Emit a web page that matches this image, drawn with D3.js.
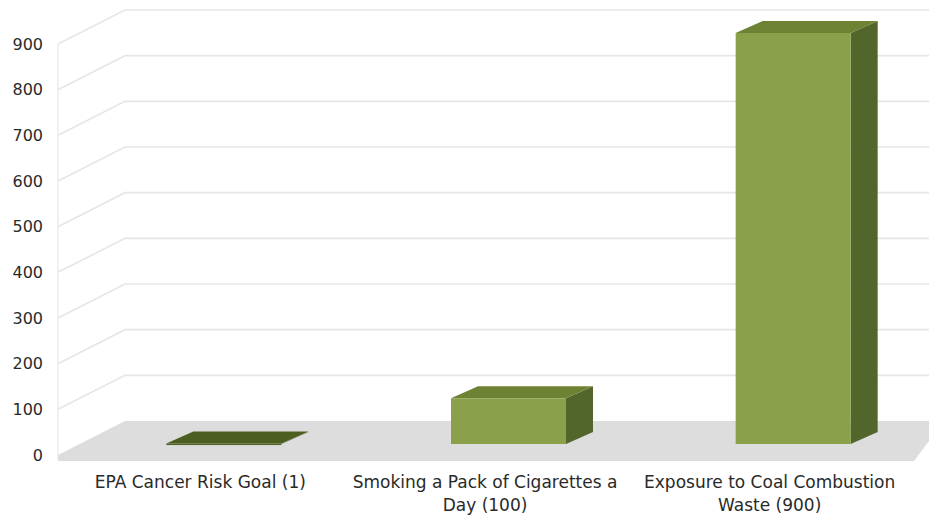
<!DOCTYPE html>
<html>
<head>
<meta charset="utf-8">
<script src="https://cdn.jsdelivr.net/npm/d3@7"></script>
<style>
  body { margin: 0; background: #fff; }
  text { font-family: "DejaVu Sans", Verdana, sans-serif; fill: #2a2a2a; }
</style>
</head>
<body>
<div id="chart"></div>
<script>
const categories = [
  "EPA Cancer Risk Goal (1)",
  "Smoking a Pack of Cigarettes a Day (100)",
  "Exposure to Coal Combustion Waste (900)"
];
const values = [1, 100, 900];
const yTicks = [0, 100, 200, 300, 400, 500, 600, 700, 800, 900];

const width = 929, height = 516;

// perspective offsets
const wallDx = 67, wallDy = -34;   // floor front -> back wall
const barDx = 27, barDy = -12;     // bar depth
const barInset = 11;               // bar front sits this far back from floor front

const left = 58, right = 912;

const svg = d3.select("#chart").append("svg")
  .attr("width", width)
  .attr("height", height);

const y = d3.scaleLinear().domain([0, 900]).range([455, 44]);
const x = d3.scaleBand().domain(categories).range([left, right]);

// floor
const y0 = y(0);
svg.append("polygon")
  .attr("points", [
    [left, y0], [left + wallDx, y0 + wallDy], [width, y0 + wallDy],
    [width, y0 - 14], [914, y0 + 6], [left, y0 + 6]
  ].map(p => p.join(",")).join(" "))
  .attr("fill", "#dddddd");

// gridlines (slanted side + back wall)
svg.append("g").selectAll("polyline")
  .data(yTicks.filter(d => d > 0))
  .enter().append("polyline")
  .attr("points", d => [
    [left, y(d)], [left + wallDx, y(d) + wallDy], [width, y(d) + wallDy]
  ].map(p => p.join(",")).join(" "))
  .attr("fill", "none")
  .attr("stroke", "#e6e6e6")
  .attr("stroke-width", 1.6);

// axis line
svg.append("line")
  .attr("x1", left).attr("x2", left)
  .attr("y1", y(900)).attr("y2", y(0) + 6)
  .attr("stroke", "#e8e8e8")
  .attr("stroke-width", 1.2);

// tick labels
svg.append("g").selectAll("text")
  .data(yTicks)
  .enter().append("text")
  .attr("x", 43)
  .attr("y", d => y(d))
  .attr("dy", "0.36em")
  .attr("text-anchor", "end")
  .attr("font-size", 16)
  .text(d => d);

// bars
const barW = 115;
const yb = v => y(v) - barInset;
const bars = svg.append("g").selectAll("g")
  .data(categories.map((c, i) => ({ c, v: values[i] })))
  .enter().append("g");

const pts = a => a.map(p => p.join(",")).join(" ");

bars.each(function(d) {
  const g = d3.select(this);
  const x0 = x(d.c) + x.bandwidth() / 2 - 34;
  const x1 = x0 + barW;
  const top = yb(d.v), bot = yb(0);
  // side
  g.append("polygon")
    .attr("points", pts([[x1, top], [x1 + barDx, top + barDy], [x1 + barDx, bot + barDy], [x1, bot]]))
    .attr("fill", "#52652a");
  // front
  g.append("rect")
    .attr("x", x0).attr("y", top)
    .attr("width", barW).attr("height", Math.max(1.5, bot - top))
    .attr("fill", d.v < 5 ? "#4f6223" : "#8aa04a");
  // top
  g.append("polygon")
    .attr("points", pts([[x0, top], [x0 + barDx, top + barDy], [x1 + barDx, top + barDy], [x1, top]]))
    .attr("fill", d.v < 5 ? "#4c5f20" : "#6e8234");
});

// category labels with wrapping
const labels = svg.append("g").selectAll("text")
  .data(categories)
  .enter().append("text")
  .attr("text-anchor", "middle")
  .attr("font-size", 17)
  .attr("x", d => x(d) + x.bandwidth() / 2)
  .attr("y", 488);

labels.each(function(d) {
  const t = d3.select(this);
  const words = d.split(" ");
  let line = [];
  let tspan = t.append("tspan").attr("x", t.attr("x")).attr("dy", 0);
  words.forEach(w => {
    line.push(w);
    tspan.text(line.join(" "));
    if (tspan.node().getComputedTextLength() > 280 && line.length > 1) {
      line.pop();
      tspan.text(line.join(" "));
      line = [w];
      tspan = t.append("tspan").attr("x", t.attr("x")).attr("dy", 23).text(w);
    }
  });
});
</script>
</body>
</html>
